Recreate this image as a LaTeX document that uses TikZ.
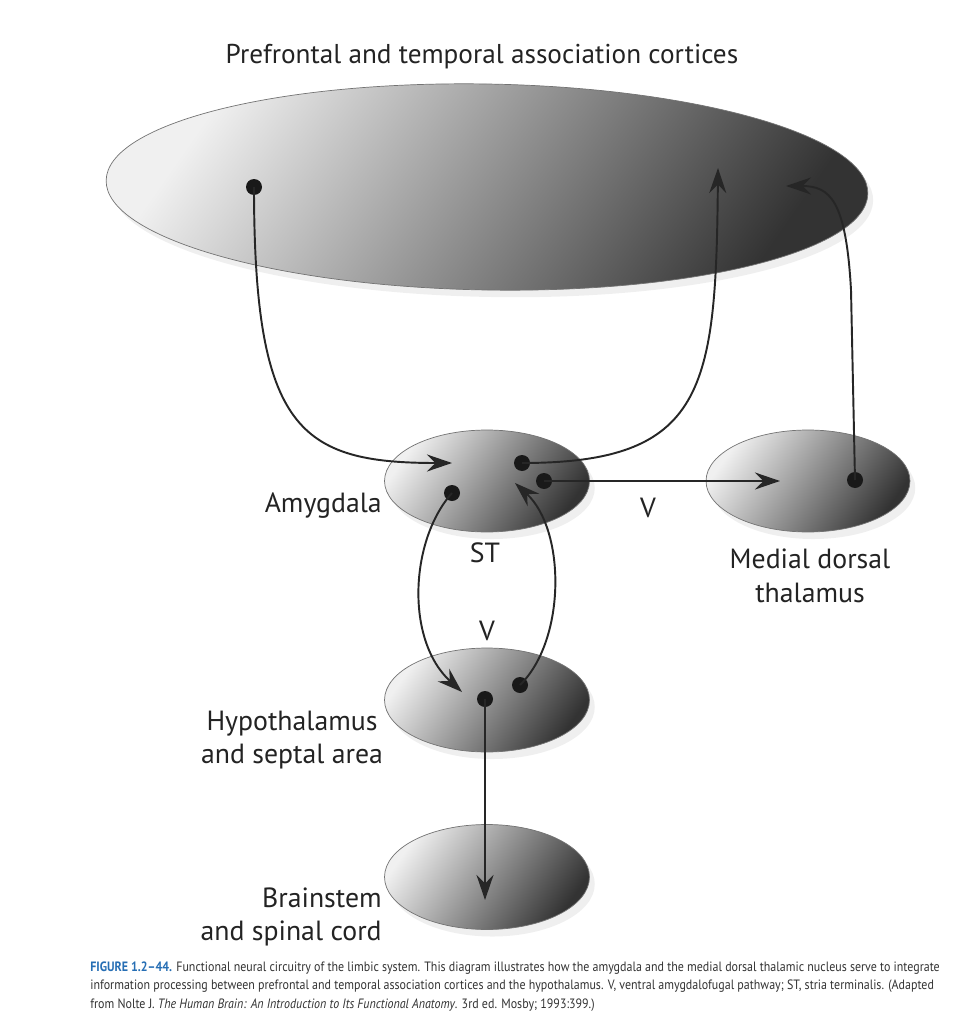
\documentclass[tikz,border=0pt]{standalone}
\usepackage{fontspec}
\setmainfont{PT Sans}
\newfontfamily\capfont[FakeStretch=0.885, Ligatures=TeX]{PT Sans}
\usepackage{xcolor}
\usepackage{tikz}
\usetikzlibrary{shapes.geometric, arrows.meta, shadows}
\definecolor{labelgray}{RGB}{35,35,35}
\definecolor{figblue}{RGB}{38,110,180}
\tikzstyle{region} = [ellipse, draw=black!55, line width=0.4pt, inner sep=0pt, left color=black!6, right color=black!80, shading angle=55, drop shadow={opacity=0.12, shadow xshift=3pt, shadow yshift=-4pt}]
\tikzstyle{dot} = [circle, fill=black!90, inner sep=0pt, minimum size=0.32cm]
\tikzstyle{label} = [text=labelgray, font=\fontsize{15.8}{19}\selectfont, inner sep=0pt]
\tikzstyle{arrow} = [line width=1.1pt, black!85, -{Stealth[length=0.5cm, width=0.34cm, inset=0.17cm]}]

\begin{document}
\begin{tikzpicture}[x=0.02cm, y=-0.02cm]
        \useasboundingbox (0,0) rectangle (978,1024);
        \fill[white] (0,0) rectangle (978,1024);
        % regions
        \node[region, minimum width=15.24cm, minimum height=4.12cm, rotate=-1] (cortex) at (487,187) {};
        \node[region, minimum width=4.1cm, minimum height=2.04cm] (amyg) at (487,481) {};
        \node[region, minimum width=4.08cm, minimum height=2.04cm] (thal) at (808,481) {};
        \node[region, minimum width=4.1cm, minimum height=2.08cm] (hypo) at (487,700) {};
        \node[region, minimum width=4.1cm, minimum height=2.1cm] (brain) at (487,877) {};
        % labels
        \node[label, font=\fontsize{15.5}{19}\selectfont] (title) at (482,57) {Prefrontal and temporal association cortices};
        \node[label, anchor=east] (amyglab) at (382,506) {Amygdala};
        \node[label, align=center] (thallab) at (810,576) {Medial dorsal\\thalamus};
        \node[label, align=center] (hypolab) at (292,740) {Hypothalamus\\and septal area};
        \node[label, align=right, anchor=east] (brainlab) at (382,917) {Brainstem\\and spinal cord};
        \node[label] (st) at (485,553) {ST};
        \node[label] (vdown) at (487,631) {V};
        \node[label] (vright) at (648,508) {V};
        % cell bodies
        \node[dot] (cortexdot) at (254,187) {};
        \node[dot] (amygup) at (522,463) {};
        \node[dot] (amygright) at (544,481) {};
        \node[dot] (amygdown) at (452,493) {};
        \node[dot] (hypoup) at (520,685) {};
        \node[dot] (hypodown) at (485,699) {};
        \node[dot] (thaldot) at (855,480) {};
        % arrow targets
        \coordinate (amygin) at (452,463);
        \coordinate (amygst) at (515,483);
        \coordinate (cortexin) at (718,168);
        \coordinate (cortexthal) at (786,186);
        \coordinate (thalin) at (780,481);
        \coordinate (hypoin) at (462,692);
        \coordinate (brainin) at (485,900);
        % pathways
        \draw[arrow] (cortexdot.center) .. controls (254,430) and (300,463) .. (amygin);
        \draw[arrow] (amygup.center) .. controls (705,463) and (716,390) .. (cortexin);
        \draw[arrow] (amygright.center) -- (thalin);
        \draw[arrow] (thaldot.center) -- (851,290) .. controls (846,200) and (830,186) .. (cortexthal);
        \draw[arrow] (amygdown.center) .. controls (410,540) and (405,640) .. (hypoin);
        \draw[arrow] (hypoup.center) .. controls (566,640) and (566,530) .. (amygst);
        \draw[arrow] (hypodown.center) -- (brainin);
        % caption
        \node[anchor=north west, align=left, inner sep=0pt, text=black!80, font=\capfont\fontsize{7.7}{10.6}\selectfont] (caption) at (90,961) {{\color{figblue}\textbf{FIGURE 1.2\textendash44.}} Functional neural circuitry of the limbic system. This diagram illustrates how the amygdala and the medial dorsal thalamic nucleus serve to integrate\\information processing between prefrontal and temporal association cortices and the hypothalamus. V, ventral amygdalofugal pathway; ST, stria terminalis. (Adapted\\from Nolte J. \textit{The Human Brain: An Introduction to Its Functional Anatomy}. 3rd ed. Mosby; 1993:399.)};
    \end{tikzpicture}
\end{document}
